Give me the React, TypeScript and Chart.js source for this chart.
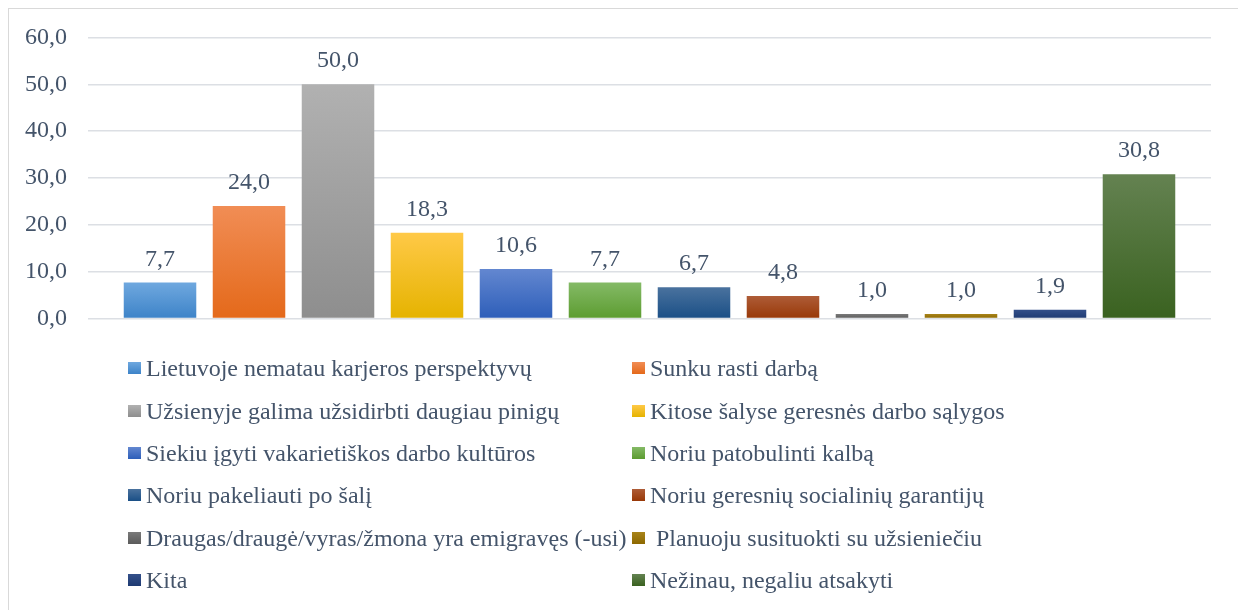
import React, { useEffect, useRef } from "react";
import { Chart, registerables } from "chart.js";

Chart.register(...registerables);

// ---- data ----
const categories: string[] = [
  "Lietuvoje nematau karjeros perspektyvų",
  "Sunku rasti darbą",
  "Užsienyje galima užsidirbti daugiau pinigų",
  "Kitose šalyse geresnės darbo sąlygos",
  "Siekiu įgyti vakarietiškos darbo kultūros",
  "Noriu patobulinti kalbą",
  "Noriu pakeliauti po šalį",
  "Noriu geresnių socialinių garantijų",
  "Draugas/draugė/vyras/žmona yra emigravęs (-usi)",
  " Planuoju susituokti su užsieniečiu",
  "Kita",
  "Nežinau, negaliu atsakyti",
];
const values: number[] = [7.7, 24.0, 50.0, 18.3, 10.6, 7.7, 6.7, 4.8, 1.0, 1.0, 1.9, 30.8];
const yMin = 0;
const yMax = 60;
const yStep = 10;

// ---- styles ----
const colorTop = [
  "#6fa8df", "#f18d55", "#b1b1b1", "#ffc947", "#6387d0", "#84ba66",
  "#4a729e", "#ae5c37", "#7a7a7a", "#a8841a", "#34508a", "#648251",
];
const colorBottom = [
  "#3d83c8", "#e4691a", "#8e8e8e", "#e5b300", "#2d5eb9", "#5c9c30",
  "#1a4f86", "#983807", "#5b5b5b", "#8d6800", "#1e3a72", "#3a6220",
];
const textColor = "#44546A";
const fontFamily = '"Liberation Serif", serif';

const fmt = (v: number) => v.toFixed(1).replace(".", ",");

const makeFill = (i: number) => (ctx: any) => {
  const chart = ctx.chart;
  const y = chart.scales && chart.scales.y;
  if (!y || ctx.type !== "data") return colorBottom[i];
  const top = y.getPixelForValue(ctx.raw);
  const bot = y.getPixelForValue(0);
  if (!isFinite(top) || !isFinite(bot) || Math.abs(bot - top) < 0.5) return colorBottom[i];
  const g = chart.ctx.createLinearGradient(0, top, 0, bot);
  g.addColorStop(0, colorTop[i]);
  g.addColorStop(1, colorBottom[i]);
  return g;
};

const valueLabels = {
  id: "valueLabels",
  afterDatasetsDraw(chart: any) {
    const c = chart.ctx;
    c.save();
    c.font = `24px ${fontFamily}`;
    c.fillStyle = textColor;
    c.textAlign = "center";
    c.textBaseline = "alphabetic";
    chart.data.datasets.forEach((ds: any, di: number) => {
      const meta = chart.getDatasetMeta(di);
      meta.data.forEach((el: any, j: number) => {
        c.fillText(fmt(ds.data[j]), el.x, el.y - 17);
      });
    });
    c.restore();
  },
};

export default function App() {
  const canvasRef = useRef<HTMLCanvasElement | null>(null);

  useEffect(() => {
    document.body.style.overflow = "hidden";
    document.documentElement.style.overflow = "hidden";
    const canvas = canvasRef.current;
    if (!canvas) return;
    const chart = new Chart(canvas, {
      type: "bar",
      data: {
        labels: [""],
        datasets: categories.map((label, i) => ({
          label,
          data: [values[i]],
          backgroundColor: makeFill(i),
          borderWidth: 0,
          categoryPercentage: 0.951,
          barPercentage: 0.815,
        })),
      },
      options: {
        animation: false,
        responsive: false,
        devicePixelRatio: 1,
        layout: { padding: { left: 0, top: 0, right: 29, bottom: 0 } },
        plugins: {
          legend: { display: false },
          tooltip: { enabled: false },
          title: { display: false },
        },
        scales: {
          x: { display: false },
          y: {
            min: yMin,
            max: yMax,
            afterFit: (s: any) => {
              s.width = 79;
            },
            border: { display: false },
            grid: { color: "#dcdfe4", lineWidth: 1.5, drawTicks: false },
            ticks: {
              stepSize: yStep,
              padding: 21,
              color: textColor,
              font: { family: fontFamily, size: 24 },
              callback: (v: any) => fmt(Number(v)),
            },
          },
        },
      } as any,
      plugins: [valueLabels],
    });
    return () => chart.destroy();
  }, []);

  return (
    <div
      style={{
        position: "relative",
        width: 1231,
        height: 620,
        border: "1px solid #d9d9d9",
        background: "#fff",
      }}
    >
      <canvas
        ref={canvasRef}
        width={1231}
        height={352}
        style={{ position: "absolute", left: 0, top: -7, width: 1231, height: 352 }}
      />
      <div
        style={{
          position: "absolute",
          left: 119,
          top: 338,
          display: "grid",
          gridTemplateColumns: "504px 504px",
          gridAutoRows: "42.4px",
          alignItems: "center",
        }}
      >
        {categories.map((label, i) => (
          <div key={i} style={{ display: "flex", alignItems: "center" }}>
            <span
              style={{
                display: "inline-block",
                flex: "none",
                width: 13,
                height: 12,
                marginRight: 5,
                background: `linear-gradient(${colorTop[i]}, ${colorBottom[i]})`,
              }}
            />
            <span
              style={{
                fontFamily,
                fontSize: 24,
                color: textColor,
                whiteSpace: "pre",
                lineHeight: "26px",
              }}
            >
              {label}
            </span>
          </div>
        ))}
      </div>
    </div>
  );
}
